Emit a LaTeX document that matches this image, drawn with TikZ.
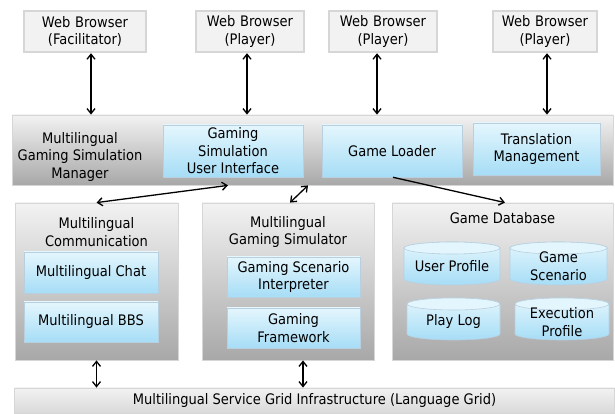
\documentclass[tikz,border=0pt]{standalone}
\usepackage{fontspec}
\setmainfont[FakeStretch=0.9]{DejaVu Sans}
\usetikzlibrary{arrows.meta}
\definecolor{bluetop}{HTML}{E4F6FD}
\definecolor{bluebot}{HTML}{A6DDF6}
\definecolor{blueline}{HTML}{B8CFE0}
\definecolor{graytop}{HTML}{F2F2F2}
\definecolor{graymid}{HTML}{E6E6E6}
\definecolor{graybot}{HTML}{A8A8A8}
\definecolor{grayline}{HTML}{D6D6D6}
\tikzset{
  x=1pt,y=1pt,
  every node/.style={font=\fontsize{14.5}{17.5}\selectfont, align=center, inner sep=0pt},
  browser/.style={draw=grayline, line width=2.5pt, fill=graytop, minimum height=41, text width=100},
  outer/.style={draw=grayline, line width=0.8pt, top color=graytop, middle color=graymid, bottom color=graybot, shading angle=0},
  inner/.style={draw=blueline, line width=0.6pt, top color=bluetop, bottom color=bluebot},
  lbl/.style={draw=none, fill=none},
  biarrow/.style={{Straight Barb[length=5pt,width=8pt]}-{Straight Barb[length=5pt,width=8pt]}, line width=1.3pt},
  onearrow/.style={-{Straight Barb[length=5pt,width=8pt]}, line width=1.3pt},
}
\newcommand{\mycyl}[4]{% x1 x2 ytop ybot
  \path[inner] (#1,#3-6) -- (#1,#4+6) arc[start angle=180,end angle=360,x radius={(#2-#1)/2},y radius=6] -- (#2,#3-6) arc[start angle=0,end angle=180,x radius={(#2-#1)/2},y radius=6] -- cycle;
  \path[draw=blueline, line width=0.6pt, fill=bluetop] ({(#1+#2)/2},#3-6) ellipse[x radius={(#2-#1)/2},y radius=6];
}
\begin{document}
\begin{tikzpicture}
\useasboundingbox (0,0) rectangle (615,414);
% browsers
\node[browser, minimum width=122] (wbf) at (85,382.5) {Web Browser\\(Facilitator)};
\node[browser, minimum width=108] (wbp1) at (250,382.5) {Web Browser\\(Player)};
\node[browser, minimum width=108] (wbp2) at (383,382.5) {Web Browser\\(Player)};
\node[browser, minimum width=104] (wbp3) at (545,382.5) {Web Browser\\(Player)};
% manager
\node[outer, minimum width=601, minimum height=70] (mgr) at (312.5,264) {};
\node[lbl] (mgrl) at (80,257) {Multilingual\\Gaming Simulation\\Manager};
\node[inner, minimum width=140, minimum height=52] (gsui) at (233,263) {Gaming\\Simulation\\User Interface};
\node[inner, minimum width=140, minimum height=52] (gl) at (392,263) {Game Loader};
\node[inner, minimum width=127, minimum height=52] (tm) at (536.5,265) {Translation\\Management};
% middle boxes
\node[outer, minimum width=163, minimum height=157] (mc) at (96.5,132.5) {};
\node[lbl] (mcl) at (96.5,182) {Multilingual\\Communication};
\node[inner, minimum width=134, minimum height=41] (chat) at (91,141.5) {Multilingual Chat};
\node[inner, minimum width=134, minimum height=40] (bbs) at (91,92) {Multilingual BBS};
\node[outer, minimum width=172, minimum height=157] (mgs) at (288,132.5) {};
\node[lbl] (mgsl) at (288,182) {Multilingual\\Gaming Simulator};
\node[inner, minimum width=133, minimum height=40] (gsi) at (293.5,137) {Gaming Scenario\\Interpreter};
\node[inner, minimum width=133, minimum height=40] (gf) at (293.5,86) {Gaming\\Framework};
\node[outer, minimum width=221, minimum height=157] (gdb) at (502.5,132.5) {};
\node[lbl] (gdbl) at (502.5,196) {Game Database};
\mycyl{404}{500}{172}{129}
\node[lbl] (up) at (452,148) {User Profile};
\mycyl{510}{607}{172}{129}
\node[lbl] (gs) at (558.5,148) {Game\\Scenario};
\mycyl{407}{500}{116}{74}
\node[lbl] (pl) at (453.5,92) {Play Log};
\mycyl{515}{609}{116}{74}
\node[lbl] (ep) at (562,92) {Execution\\Profile};
% bottom bar
\node[outer, minimum width=600, minimum height=25, middle color=graytop, bottom color=graymid!80!graybot] (grid) at (314.5,13.5) {Multilingual Service Grid Infrastructure (Language Grid)};
% arrows
\draw[biarrow] ([xshift=6]wbf.south) -- ([xshift=6]wbf.south |- mgr.north);
\draw[biarrow] ([xshift=-3]wbp1.south) -- ([xshift=-3]wbp1.south |- mgr.north);
\draw[biarrow] ([xshift=-6]wbp2.south) -- ([xshift=-6]wbp2.south |- mgr.north);
\draw[biarrow] ([xshift=2]wbp3.south) -- ([xshift=2]wbp3.south |- mgr.north);
\draw[biarrow] (mc.north) -- ([xshift=-5]gsui.south |- mgr.south);
\draw[biarrow] ([xshift=2]mgs.north) -- ([xshift=20]mgs.north |- mgr.south);
\draw[onearrow] ([xshift=1]gl.south) -- ([xshift=2.5]gdb.north);
\draw[biarrow] (mc.south) -- (mc.south |- grid.north);
\draw[biarrow] ([xshift=15]mgs.south) -- ([xshift=15]mgs.south |- grid.north);
\end{tikzpicture}
\end{document}
